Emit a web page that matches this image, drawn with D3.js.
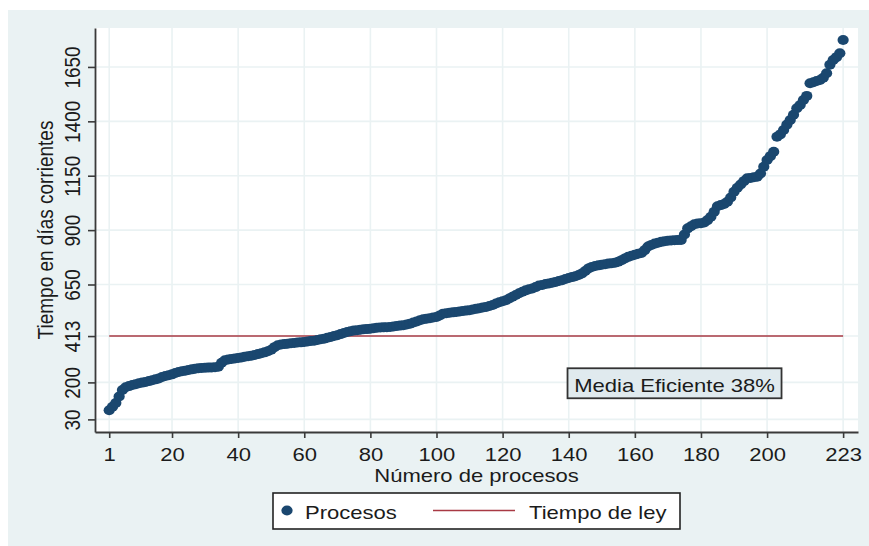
<!DOCTYPE html>
<html>
<head>
<meta charset="utf-8">
<script src="https://cdn.jsdelivr.net/npm/d3@7"></script>
<style>
  body { margin: 0; background: #fff; }
  text { font-family: "Liberation Sans", Arial, sans-serif; fill: #1b1b1b; }
</style>
</head>
<body>
<svg id="chart" width="869" height="546"></svg>
<script>
// tiempo de cada proceso (días corrientes), ordenado de menor a mayor
const tiempos = [
  72, 88, 105, 135, 165, 178, 183, 188, 192, 196,
  199, 202, 206, 210, 214, 218, 225, 229, 233, 237,
  243, 248, 251, 254, 257, 260, 263, 265, 266, 267,
  268, 269, 270, 272, 290, 302, 305, 308, 310, 312,
  315, 318, 320, 323, 326, 330, 334, 338, 343, 350,
  362, 371, 374, 376, 378, 380, 381, 383, 384, 386,
  388, 390, 392, 395, 398, 401, 405, 409, 413, 417,
  422, 427, 432, 435, 438, 440, 442, 444, 445, 447,
  449, 451, 452, 453, 454, 455, 457, 459, 461, 463,
  466, 470, 475, 480, 486, 490, 493, 495, 498, 501,
  508, 516, 518, 520, 522, 524, 526, 528, 530, 532,
  535, 538, 541, 544, 547, 551, 556, 563, 568, 573,
  578, 586, 594, 602, 610, 617, 623, 628, 632, 638,
  645, 648, 652, 655, 658, 662, 666, 670, 675, 680,
  684, 688, 694, 701, 712, 724, 731, 735, 738, 741,
  743, 746, 748, 750, 755, 762, 770, 777, 782, 787,
  791, 795, 808, 825, 832, 838, 842, 846, 849, 851,
  852, 853, 854, 855, 880, 908, 918, 927, 930, 932,
  935, 946, 961, 984, 1010, 1015, 1020, 1030, 1050, 1076,
  1095, 1110, 1125, 1138, 1140, 1143, 1145, 1160, 1191, 1222,
  1240, 1260, 1329, 1340, 1360, 1385, 1406, 1430, 1460, 1475,
  1498, 1517, 1575, 1580, 1585, 1590, 1600, 1621, 1660, 1682,
  1695, 1713, 1774
];
const tiempoLey = 413;
const xTicks = [1, 20, 40, 60, 80, 100, 120, 140, 160, 180, 200, 223];
const yTicks = [30, 200, 413, 650, 900, 1150, 1400, 1650];
const nota = { x: 172, y: 196, texto: "Media Eficiente 38%" };
const leyenda = ["Procesos", "Tiempo de ley"];

const sx = 1.16; // el gráfico original está algo estirado a lo ancho
const navy = "#1a476f", rojo = "#a83a44", fondo = "#eaf2f3";

const svg = d3.select("#chart");
const pl = 95, pr = 858, pt = 28, pb = 432;

const x = d3.scaleLinear().domain([-3.3, 227.5]).range([pl, pr]);
const y = d3.scaleLinear().domain([-28, 1829]).range([pb, pt]);

svg.append("rect").attr("x", 8).attr("y", 10).attr("width", 861).attr("height", 536).attr("fill", fondo);
svg.append("rect").attr("x", pl).attr("y", pt).attr("width", pr - pl).attr("height", pb - pt).attr("fill", "#fff");

// rejilla
svg.append("g").selectAll("line").data(xTicks).enter().append("line")
  .attr("x1", d => x(d)).attr("x2", d => x(d))
  .attr("y1", pt).attr("y2", pb)
  .attr("stroke", fondo).attr("stroke-width", 1.6);
svg.append("g").selectAll("line").data(yTicks).enter().append("line")
  .attr("x1", pl).attr("x2", pr)
  .attr("y1", d => y(d)).attr("y2", d => y(d))
  .attr("stroke", fondo).attr("stroke-width", 1.6);

// ejes
const gx = svg.append("g")
  .attr("transform", `translate(0,${pb})`)
  .call(d3.axisBottom(x).tickValues(xTicks).tickFormat(d3.format("d"))
    .tickSize(6).tickSizeOuter(0).tickPadding(10));
gx.selectAll("text")
  .attr("font-size", 19)
  .attr("dy", "0.71em")
  .attr("transform", `scale(${sx},1)`);

const gy = svg.append("g")
  .attr("transform", `translate(${pl},0)`)
  .call(d3.axisLeft(y).tickValues(yTicks).tickFormat(d3.format("d"))
    .tickSize(7).tickSizeOuter(0));
gy.selectAll("text")
  .attr("x", null).attr("dy", null)
  .attr("font-size", 19)
  .attr("text-anchor", "middle")
  .attr("transform", `translate(-15,0) scale(${sx},1) rotate(-90)`);

[gx, gy].forEach(g => {
  g.select(".domain").attr("stroke", "#3a3a3a").attr("stroke-width", 1.8);
  g.selectAll(".tick line").attr("stroke", "#3a3a3a").attr("stroke-width", 1.6);
  g.selectAll("text").attr("fill", "#1b1b1b").attr("font-family", null);
});

// títulos de ejes
svg.append("text")
  .attr("transform", `translate(${(pl + pr) / 2},482) scale(${sx},1)`)
  .attr("text-anchor", "middle").attr("font-size", 19)
  .text("Número de procesos");
svg.append("text")
  .attr("transform", `translate(53,${(pt + pb) / 2}) scale(${sx},1) rotate(-90)`)
  .attr("text-anchor", "middle").attr("font-size", 19)
  .text("Tiempo en días corrientes");

// tiempo de ley
svg.append("line")
  .attr("x1", x(1)).attr("x2", x(tiempos.length))
  .attr("y1", y(tiempoLey)).attr("y2", y(tiempoLey))
  .attr("stroke", rojo).attr("stroke-width", 1.6);

// procesos
svg.append("g").selectAll("ellipse").data(tiempos).enter().append("ellipse")
  .attr("cx", (d, i) => x(i + 1))
  .attr("cy", d => y(d))
  .attr("rx", 5.6).attr("ry", 5)
  .attr("fill", navy);

// nota
const nx = x(nota.x), ny = y(nota.y);
svg.append("rect")
  .attr("x", nx - 107).attr("y", ny - 15).attr("width", 214).attr("height", 30)
  .attr("fill", "#e0eaee").attr("stroke", "#333").attr("stroke-width", 1.8);
svg.append("text")
  .attr("transform", `translate(${nx},${ny + 8.5}) scale(${sx},1)`)
  .attr("text-anchor", "middle").attr("font-size", 19)
  .text(nota.texto);

// leyenda
const lg = svg.append("g");
lg.append("rect").attr("x", 273).attr("y", 493).attr("width", 407).attr("height", 36)
  .attr("fill", "#fff").attr("stroke", "#222").attr("stroke-width", 1.6);
lg.append("ellipse").attr("cx", 287).attr("cy", 510.5).attr("rx", 5.6).attr("ry", 5).attr("fill", navy);
lg.append("text").attr("transform", `translate(305,519) scale(${sx},1)`).attr("font-size", 19).text(leyenda[0]);
lg.append("line").attr("x1", 433).attr("x2", 515).attr("y1", 510.5).attr("y2", 510.5)
  .attr("stroke", rojo).attr("stroke-width", 1.6);
lg.append("text").attr("transform", `translate(529,519) scale(${sx},1)`).attr("font-size", 19).text(leyenda[1]);
</script>
</body>
</html>
